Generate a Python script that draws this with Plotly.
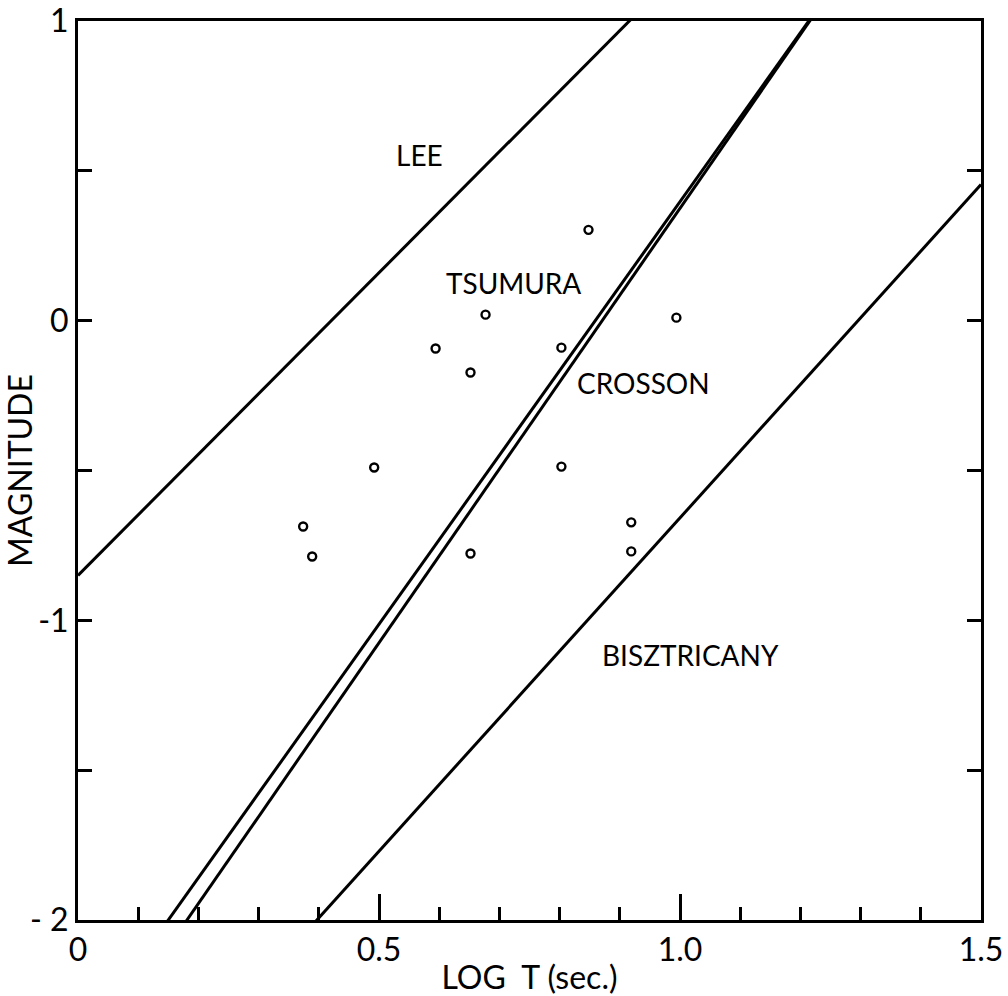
import plotly.graph_objects as go

# Observed events (log T, magnitude)
log_t = [0.374, 0.389, 0.492, 0.594, 0.652, 0.677, 0.652, 0.803, 0.803, 0.848, 0.919, 0.919, 0.994]
magnitude = [-0.687, -0.787, -0.49, -0.093, -0.173, 0.02, -0.777, -0.09, -0.487, 0.303, -0.673, -0.77, 0.01]

# Duration-magnitude relations M = a * logT + b
relation_names = ["LEE", "TSUMURA", "CROSSON", "BISZTRICANY"]
relation_slopes = [2.02, 2.90, 2.82, 2.225]
relation_intercepts = [-0.85, -2.525, -2.423, -2.883]

# Label positions for each relation
label_x = [0.568, 0.723, 0.939, 1.017]
label_y = [0.554, 0.127, -0.207, -1.115]

x_tickvals = [0, 0.5, 1.0, 1.5]
x_ticktext = ["0", "0.5", "1.0", "1.5"]
y_tickvals = [-2, -1.5, -1, -0.5, 0, 0.5, 1]
y_ticktext = ["- 2", "", "-1", "", "0", "", "1"]

FONT = "Lato, 'Open Sans', sans-serif"

fig = go.Figure()

xs = [0.0, 1.5]
for name, a, b in zip(relation_names, relation_slopes, relation_intercepts):
    fig.add_trace(go.Scatter(
        x=xs, y=[a * x + b for x in xs], mode="lines", name=name,
        line=dict(color="black", width=3), showlegend=False, hoverinfo="skip",
    ))

fig.add_trace(go.Scatter(
    x=log_t, y=magnitude, mode="markers", showlegend=False,
    marker=dict(symbol="circle-open", size=8, color="black", line=dict(width=2.4, color="black")),
))

for name, lx, ly in zip(relation_names, label_x, label_y):
    fig.add_annotation(x=lx, y=ly, text=name, showarrow=False,
                       font=dict(family=FONT, size=28, color="black"))

fig.update_xaxes(
    range=[0, 1.5], tickvals=x_tickvals, ticktext=x_ticktext,
    ticks="inside", ticklen=26, tickwidth=2.5, tickcolor="black",
    minor=dict(dtick=0.1, tick0=0, ticks="inside", ticklen=13, tickwidth=2.5, tickcolor="black"),
    showline=True, linecolor="black", linewidth=3, mirror=True,
    showgrid=False, zeroline=False, automargin=False,
    tickfont=dict(family=FONT, size=32, color="black"),
    title=dict(text="LOG  T (sec.)", font=dict(family=FONT, size=32, color="black"), standoff=0),
)
fig.update_yaxes(
    range=[-2, 1], tickvals=y_tickvals, ticktext=y_ticktext,
    ticks="inside", ticklen=14, tickwidth=2.5, tickcolor="black",
    showline=True, linecolor="black", linewidth=3, mirror="ticks",
    showgrid=False, zeroline=False, automargin=False,
    tickfont=dict(family=FONT, size=32, color="black"),
    title=dict(text="MAGNITUDE", font=dict(family=FONT, size=32, color="black"), standoff=4),
)

fig.update_layout(
    width=1008, height=996,
    margin=dict(l=78, r=27, t=21, b=76),
    paper_bgcolor="white", plot_bgcolor="white",
)

fig.write_html("out.html")
